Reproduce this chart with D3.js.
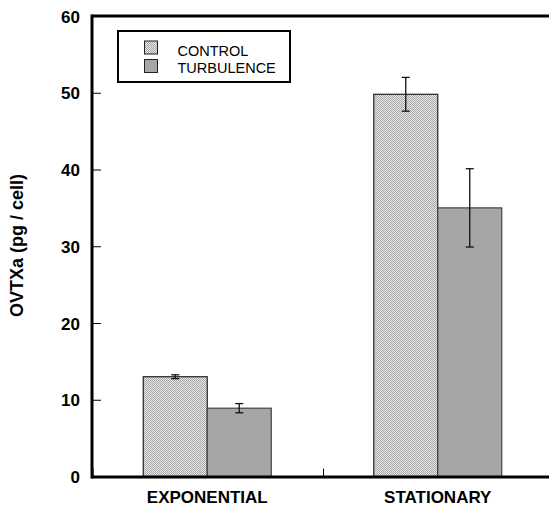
<!DOCTYPE html>
<html><head><meta charset="utf-8">
<script src="https://cdn.jsdelivr.net/npm/d3@7"></script>
<style>body{margin:0;background:#fff}svg{display:block}</style>
</head><body>
<script>
const categories = ["EXPONENTIAL", "STATIONARY"];
const seriesNames = ["CONTROL", "TURBULENCE"];
const controlValues = [13.0, 49.8];
const controlErrors = [0.25, 2.2];
const turbulenceValues = [8.9, 35.0];
const turbulenceErrors = [0.6, 5.1];
const yTicks = [0, 10, 20, 30, 40, 50, 60];

const W = 549, H = 508;
const plotLeft = 92, plotTop = 16, plotBottom = 476.5, plotRight = 553;
const FONT = "Arial, 'Liberation Sans', sans-serif";

const svg = d3.select("body").append("svg").attr("width", W).attr("height", H);
const defs = svg.append("defs");
const pat = defs.append("pattern").attr("id", "dots").attr("width", 2).attr("height", 2)
  .attr("patternUnits", "userSpaceOnUse");
pat.append("rect").attr("width", 2).attr("height", 2).attr("fill", "#e6e6e6");
pat.append("rect").attr("width", 1).attr("height", 1).attr("fill", "#a8a8a8");
pat.append("rect").attr("x", 1).attr("y", 1).attr("width", 1).attr("height", 1).attr("fill", "#a8a8a8");

const y = d3.scaleLinear().domain([0, 60]).range([plotBottom, plotTop]);
const x = d3.scaleBand().domain(categories).range([plotLeft, plotRight]).padding(0);
const sub = d3.scaleBand().domain(seriesNames).range([-64, 64]).padding(0);

const data = categories.map((c, i) => ({
  cat: c,
  vals: [
    {s: "CONTROL", v: controlValues[i], e: controlErrors[i]},
    {s: "TURBULENCE", v: turbulenceValues[i], e: turbulenceErrors[i]}
  ]
}));
const fills = {CONTROL: "url(#dots)", TURBULENCE: "#a6a6a6"};
const strokes = {CONTROL: "#222", TURBULENCE: "#444"};

const g = svg.append("g");
data.forEach(d => {
  const cx = x(d.cat) + x.bandwidth() / 2;
  d.vals.forEach(b => {
    g.append("rect")
      .attr("x", cx + sub(b.s)).attr("y", y(b.v))
      .attr("width", sub.bandwidth()).attr("height", y(0) - y(b.v))
      .attr("fill", fills[b.s]).attr("stroke", strokes[b.s]).attr("stroke-width", 1.2);
  });
  d.vals.forEach(b => {
    const ex = cx + sub(b.s) + sub.bandwidth() / 2;
    const e = g.append("g").attr("stroke", "#111").attr("stroke-width", 1.3);
    e.append("line").attr("x1", ex).attr("x2", ex).attr("y1", y(b.v + b.e)).attr("y2", y(b.v - b.e));
    e.append("line").attr("x1", ex - 4).attr("x2", ex + 4).attr("y1", y(b.v + b.e)).attr("y2", y(b.v + b.e));
    e.append("line").attr("x1", ex - 4).attr("x2", ex + 4).attr("y1", y(b.v - b.e)).attr("y2", y(b.v - b.e));
  });
});

// y axis ticks (inward)
const yAxis = d3.axisLeft(y).tickValues(yTicks).tickSizeInner(-9).tickSizeOuter(0).tickPadding(12);
const ya = svg.append("g").attr("transform", `translate(${plotLeft},0)`).call(yAxis);
ya.select(".domain").remove();
ya.selectAll(".tick line").attr("stroke", "#000").attr("stroke-width", 1);
ya.selectAll(".tick text").attr("font-family", FONT)
  .attr("font-weight", "bold").attr("font-size", 17).attr("fill", "#000").attr("dy", "0.36em");

// x band boundary ticks
const bounds = [plotLeft, x(categories[1])];
svg.selectAll(".xb").data(bounds).enter().append("line")
  .attr("x1", d => d + 1).attr("x2", d => d + 1).attr("y1", plotBottom - 8).attr("y2", plotBottom)
  .attr("stroke", "#000").attr("stroke-width", 1);

// x labels
svg.selectAll(".xl").data(categories).enter().append("text")
  .attr("x", d => x(d) + x.bandwidth() / 2).attr("y", 503)
  .attr("text-anchor", "middle")
  .attr("font-family", FONT).attr("font-weight", "bold")
  .attr("font-size", 17).text(d => d);

// frame
svg.append("line").attr("x1", plotLeft).attr("x2", W).attr("y1", plotTop).attr("y2", plotTop)
  .attr("stroke", "#000").attr("stroke-width", 3);
svg.append("line").attr("x1", plotLeft).attr("x2", W).attr("y1", plotBottom + 0.5).attr("y2", plotBottom + 0.5)
  .attr("stroke", "#000").attr("stroke-width", 3);
svg.append("line").attr("x1", plotLeft).attr("x2", plotLeft).attr("y1", plotTop - 1.5).attr("y2", plotBottom + 2)
  .attr("stroke", "#000").attr("stroke-width", 3);

// y label
svg.append("text").attr("transform", "translate(23,245.5) rotate(-90)")
  .attr("text-anchor", "middle")
  .attr("font-family", FONT).attr("font-weight", "bold")
  .attr("font-size", 18).text("OVTXa (pg / cell)");

// legend
const lg = svg.append("g");
lg.append("rect").attr("x", 118).attr("y", 31).attr("width", 172).attr("height", 51)
  .attr("fill", "#fff").attr("stroke", "#000").attr("stroke-width", 2);
seriesNames.forEach((s, i) => {
  lg.append("rect").attr("x", 144.5).attr("y", 41 + i * 18.5).attr("width", 13).attr("height", 13)
    .attr("fill", fills[s]).attr("stroke", "#222").attr("stroke-width", 1);
  lg.append("text").attr("x", 177.5).attr("y", 55.5 + i * 17)
    .attr("font-family", FONT).attr("font-size", 14.5)
    .text(s);
});
</script>
</body></html>
